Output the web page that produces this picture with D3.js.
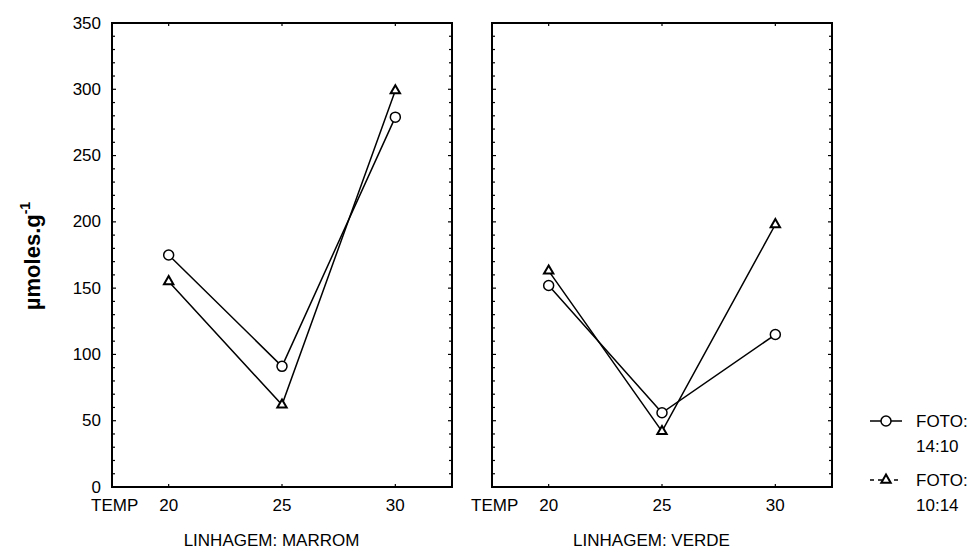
<!DOCTYPE html>
<html>
<head>
<meta charset="utf-8">
<script src="https://cdn.jsdelivr.net/npm/d3@7"></script>
<style>
  html, body { margin: 0; padding: 0; background: #fff; }
  svg { display: block; font-family: "Liberation Sans", Arial, Helvetica, sans-serif; }
</style>
</head>
<body>
<svg id="chart" width="972" height="549"></svg>
<script>
// Temperatures on the x axis
const temps = [20, 25, 30];
// Panels (one per lineage)
const panelNames = ["LINHAGEM: MARROM", "LINHAGEM: VERDE"];
// Photoperiod series, values in µmoles.g-1 per panel
const foto1410Marrom = [175, 91, 279];
const foto1014Marrom = [155, 62, 299];
const foto1410Verde = [152, 56, 115];
const foto1014Verde = [163, 42, 198];
const seriesNames = ["FOTO:\n14:10", "FOTO:\n10:14"];
// Axis ticks
const yMajorTicks = [0, 50, 100, 150, 200, 250, 300, 350];
const yMinorTicks = d3.range(0, 351, 10);

const panelValues = [
  [foto1410Marrom, foto1014Marrom],
  [foto1410Verde, foto1014Verde]
];

const svg = d3.select("#chart");
const plotTop = 23, plotBottom = 487;
const panelX = [[112, 452], [492, 832]];

const y = d3.scaleLinear().domain([0, 350]).range([plotBottom, plotTop]);

const font = 17;

panelNames.forEach((name, p) => {
  const [x0, x1] = panelX[p];
  const x = d3.scaleLinear().domain([17.5, 32.5]).range([x0, x1]);
  const g = svg.append("g");

  // tick marks on all four sides, pointing inward
  const tickG = g.append("g").attr("stroke", "#000").attr("stroke-width", 1.2);
  yMinorTicks.forEach(v => {
    const len = v % 50 === 0 ? 4 : 3;
    tickG.append("line").attr("x1", x0).attr("x2", x0 + len).attr("y1", y(v)).attr("y2", y(v));
    tickG.append("line").attr("x1", x1).attr("x2", x1 - len).attr("y1", y(v)).attr("y2", y(v));
  });
  temps.forEach(t => {
    tickG.append("line").attr("x1", x(t)).attr("x2", x(t)).attr("y1", plotBottom).attr("y2", plotBottom - 3);
    tickG.append("line").attr("x1", x(t)).attr("x2", x(t)).attr("y1", plotTop).attr("y2", plotTop + 3);
  });

  // frame
  g.append("rect")
    .attr("x", x0).attr("y", plotTop)
    .attr("width", x1 - x0).attr("height", plotBottom - plotTop)
    .attr("fill", "none").attr("stroke", "#000").attr("stroke-width", 2);

  // x tick labels
  g.selectAll("text.xt").data(temps).enter().append("text")
    .attr("x", d => x(d)).attr("y", 505)
    .attr("text-anchor", "middle").attr("dominant-baseline", "central")
    .attr("font-size", font).text(d => d);
  g.append("text")
    .attr("x", x0 - 21).attr("y", 505)
    .attr("dominant-baseline", "central")
    .attr("font-size", font).text("TEMP");

  // panel title
  g.append("text")
    .attr("x", (x0 - 21 + x1) / 2).attr("y", 540)
    .attr("text-anchor", "middle").attr("dominant-baseline", "central")
    .attr("font-size", font).text(name);

  // series lines
  const line = d3.line().x((d, i) => x(temps[i])).y(d => y(d));
  panelValues[p].forEach(vals => {
    g.append("path").datum(vals).attr("d", line)
      .attr("fill", "none").attr("stroke", "#000").attr("stroke-width", 1.5);
  });

  // circle markers (14:10)
  g.selectAll("circle.m").data(panelValues[p][0]).enter().append("circle")
    .attr("cx", (d, i) => x(temps[i])).attr("cy", d => y(d)).attr("r", 5)
    .attr("fill", "#fff").attr("stroke", "#000").attr("stroke-width", 1.5);

  // triangle markers (10:14)
  const tri = d3.symbol().type(d3.symbolTriangle).size(38);
  g.selectAll("path.t").data(panelValues[p][1]).enter().append("path")
    .attr("d", tri)
    .attr("transform", (d, i) => `translate(${x(temps[i])},${y(d)})`)
    .attr("fill", "#fff").attr("stroke", "#000").attr("stroke-width", 2);
});

// y axis tick labels (left panel only)
svg.selectAll("text.yt").data(yMajorTicks).enter().append("text")
  .attr("x", 101).attr("y", d => y(d))
  .attr("text-anchor", "end").attr("dominant-baseline", "central")
  .attr("font-size", font).text(d => d);

// y axis title
const yt = svg.append("text")
  .attr("transform", "translate(40,256) rotate(-90)")
  .attr("text-anchor", "middle")
  .attr("font-size", 22).attr("font-weight", "bold");
yt.append("tspan").text("µmoles.g");
yt.append("tspan").attr("font-size", 14).attr("dy", -10).text("-1");

// legend
const legend = svg.append("g");
const legendRows = [421, 480];
// 14:10 row
legend.append("line").attr("x1", 870).attr("x2", 902).attr("y1", legendRows[0]).attr("y2", legendRows[0])
  .attr("stroke", "#000").attr("stroke-width", 1.5);
legend.append("circle").attr("cx", 886).attr("cy", legendRows[0]).attr("r", 5)
  .attr("fill", "#fff").attr("stroke", "#000").attr("stroke-width", 1.5);
// 10:14 row
legend.append("line").attr("x1", 870).attr("x2", 902).attr("y1", legendRows[1]).attr("y2", legendRows[1])
  .attr("stroke", "#000").attr("stroke-width", 1.5).attr("stroke-dasharray", "4,4");
legend.append("path").attr("d", d3.symbol().type(d3.symbolTriangle).size(38))
  .attr("transform", `translate(886,${legendRows[1]})`)
  .attr("fill", "#fff").attr("stroke", "#000").attr("stroke-width", 2);

seriesNames.forEach((s, i) => {
  const parts = s.split("\n");
  parts.forEach((t, j) => {
    legend.append("text")
      .attr("x", 916).attr("y", legendRows[i] + j * 25)
      .attr("dominant-baseline", "central")
      .attr("font-size", font).text(t);
  });
});
</script>
</body>
</html>
